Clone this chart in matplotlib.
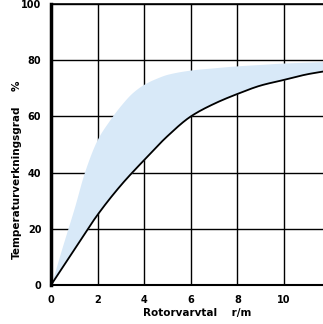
import matplotlib
matplotlib.use("Agg")
import matplotlib.pyplot as plt
import numpy as np

upper_x = [0, 0.5, 1, 1.45, 2, 2.5, 3, 3.5, 4, 4.5, 5, 6, 7, 8, 9, 10, 11, 11.7]
upper_y = [0, 14, 27.5, 40.5, 52, 58.5, 64, 68.5, 71.5, 73.5, 75, 76.5, 77.3, 78, 78.5, 79, 79.3, 79.5]
lower_x = [0, 0.5, 1, 2, 3, 4, 5, 6, 7, 8, 9, 10, 11, 11.7]
lower_y = [0, 6.3, 12.6, 25, 35.5, 44.5, 53, 60, 64.5, 68, 71, 73, 75, 76]
xticks = [0, 2, 4, 6, 8, 10]
yticks = [0, 20, 40, 60, 80, 100]


def pchip(x, y, xn):
    x = np.asarray(x, float); y = np.asarray(y, float)
    h = np.diff(x); d = np.diff(y) / h
    m = np.zeros_like(y)
    for k in range(1, len(x) - 1):
        if d[k-1] * d[k] > 0:
            w1 = 2*h[k] + h[k-1]; w2 = h[k] + 2*h[k-1]
            m[k] = (w1 + w2) / (w1/d[k-1] + w2/d[k])
    m[0] = d[0]; m[-1] = d[-1]
    idx = np.clip(np.searchsorted(x, xn) - 1, 0, len(x) - 2)
    t = (xn - x[idx]) / h[idx]
    h00 = 2*t**3 - 3*t**2 + 1; h10 = t**3 - 2*t**2 + t
    h01 = -2*t**3 + 3*t**2; h11 = t**3 - t**2
    return h00*y[idx] + h10*h[idx]*m[idx] + h01*y[idx+1] + h11*h[idx]*m[idx+1]


fig = plt.figure(figsize=(3.23, 3.24), dpi=100)
ax = fig.add_axes([51/323, 1-285/324, 1-51/323, 281/324])

xs = np.linspace(0, 11.7, 400)
uy = pchip(upper_x, upper_y, xs)
ly = pchip(lower_x, lower_y, xs)
ax.fill_between(xs, ly, uy, color="#d8e9f8", lw=0, zorder=2)
ax.plot(xs, ly, color="black", lw=1.3, zorder=3)

ax.set_xlim(0, 11.67)
ax.set_ylim(0, 100)
ax.set_xticks(xticks)
ax.set_yticks(yticks)
ax.grid(True, color="black", lw=1.0, zorder=1)
ax.set_axisbelow(True)
ax.tick_params(length=0, pad=7)
fnt = dict(family=["Liberation Sans Narrow", "DejaVu Sans"], weight="bold", size=7)
ax.set_xticklabels([str(t) for t in xticks], **fnt)
ax.set_yticklabels([str(t) for t in yticks], **fnt)
ax.spines["right"].set_visible(False)
ax.spines["left"].set_linewidth(2.5)
ax.spines["bottom"].set_linewidth(1.5)
ax.spines["top"].set_linewidth(1.2)

fig.text(197/323, 1-313/324, "Rotorvarvtal    r/m", fontsize=7.5, weight="bold",
         ha="center", va="center")
fig.text(17/323, 1-182/324, "Temperaturverkningsgrad", fontsize=7.5, weight="bold",
         ha="center", va="center", rotation=90)
fig.text(17/323, 1-86/324, "%", fontsize=7.5, weight="bold",
         ha="center", va="center", rotation=90)

fig.savefig("out.png", dpi=100)
